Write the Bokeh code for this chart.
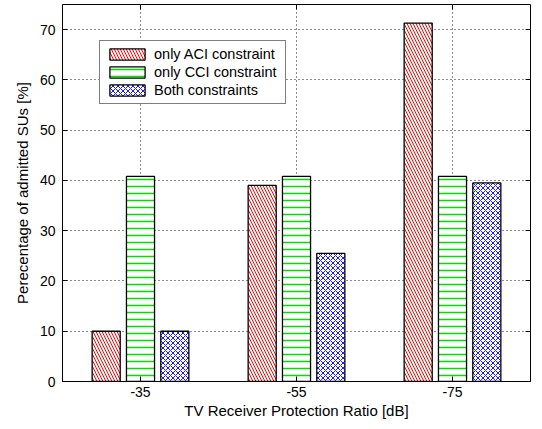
from bokeh.plotting import figure
from bokeh.models import (FactorRange, Range1d, LinearAxis, CategoricalAxis, Legend,
                          LegendItem, ColumnDataSource, FixedTicker)
from bokeh.transform import dodge
from bokeh.embed import file_html
from bokeh.resources import INLINE

categories = ["-35", "-55", "-75"]
aci_only = [10.0, 39.0, 71.3]
cci_only = [40.8, 40.8, 40.8]
both_constraints = [10.0, 25.5, 39.5]
series_labels = ["only ACI constraint", "only CCI constraint", "Both constraints"]
y_ticks = [0, 10, 20, 30, 40, 50, 60, 70]

FONT = "Liberation Sans"

src = ColumnDataSource(dict(cat=categories, aci=aci_only, cci=cci_only, both=both_constraints))

p = figure(x_range=FactorRange(*categories, range_padding=0), y_range=Range1d(0, 75),
           width=534, height=421, output_backend="svg", toolbar_location=None,
           min_border_left=62, min_border_right=4, min_border_top=4, min_border_bottom=38)
p.background_fill_color = "white"
p.border_fill_color = "white"
p.outline_line_color = "black"
p.outline_line_width = 1

common = dict(width=0.18, source=src, fill_color="white", line_color="black", line_width=1.3)
r1 = p.vbar(x=dodge("cat", -0.22, range=p.x_range), top="aci", hatch_pattern="left_diagonal_line",
            hatch_color="red", hatch_scale=6, hatch_weight=1, **common)
r2 = p.vbar(x=dodge("cat", 0.0, range=p.x_range), top="cci", hatch_pattern="horizontal_line",
            hatch_color="#00e000", hatch_scale=7, hatch_weight=1.5, **common)
r3 = p.vbar(x=dodge("cat", 0.22, range=p.x_range), top="both", hatch_pattern="diagonal_cross",
            hatch_color="blue", hatch_scale=5, hatch_weight=0.9, **common)

# grids
for g in (p.xgrid, p.ygrid):
    g.grid_line_color = "black"
    g.grid_line_dash = "1 3"
    g.grid_line_alpha = 0.9
p.yaxis.ticker = FixedTicker(ticks=y_ticks)

def style_axis(ax, labels=True):
    ax.major_tick_in = 5
    ax.major_tick_out = 0
    ax.minor_tick_line_color = None
    ax.major_tick_line_color = "black"
    ax.axis_line_color = "black"
    ax.major_label_text_font = FONT
    ax.major_label_text_font_size = "14px"
    ax.major_label_text_color = "black"
    ax.axis_label_text_font = FONT
    ax.axis_label_text_font_size = "15px"
    ax.axis_label_text_font_style = "normal"
    ax.axis_label_text_color = "black"
    if not labels:
        ax.major_label_text_color = None
        ax.major_label_text_font_size = "1px"
        ax.major_label_standoff = 0
        ax.axis_line_color = None

style_axis(p.xaxis[0])
style_axis(p.yaxis[0])
p.xaxis.axis_label = "TV Receiver Protection Ratio [dB]"
p.yaxis.axis_label = "Perecentage of admitted SUs [%]"
p.xaxis.major_label_standoff = 5
p.xaxis.axis_label_standoff = 2
p.yaxis.major_label_standoff = 7
p.yaxis.axis_label_standoff = 6

ra = LinearAxis(ticker=FixedTicker(ticks=y_ticks))
style_axis(ra, labels=False)
p.add_layout(ra, "right")
ta = CategoricalAxis()
style_axis(ta, labels=False)
p.add_layout(ta, "above")

legend = Legend(items=[LegendItem(label=series_labels[0], renderers=[r1]),
                       LegendItem(label=series_labels[1], renderers=[r2]),
                       LegendItem(label=series_labels[2], renderers=[r3])],
                location=(37, 277))
legend.label_text_font = FONT
legend.label_text_font_size = "14.5px"
legend.label_text_color = "black"
legend.glyph_width = 44
legend.glyph_height = 14
legend.label_height = 16
legend.label_width = 126
legend.spacing = 2
legend.padding = 5
legend.margin = 0
legend.label_standoff = 5
legend.border_line_color = "black"
legend.border_line_width = 1
legend.background_fill_color = "white"
legend.background_fill_alpha = 1
p.add_layout(legend)

open("out.html", "w").write(file_html(p, INLINE))
